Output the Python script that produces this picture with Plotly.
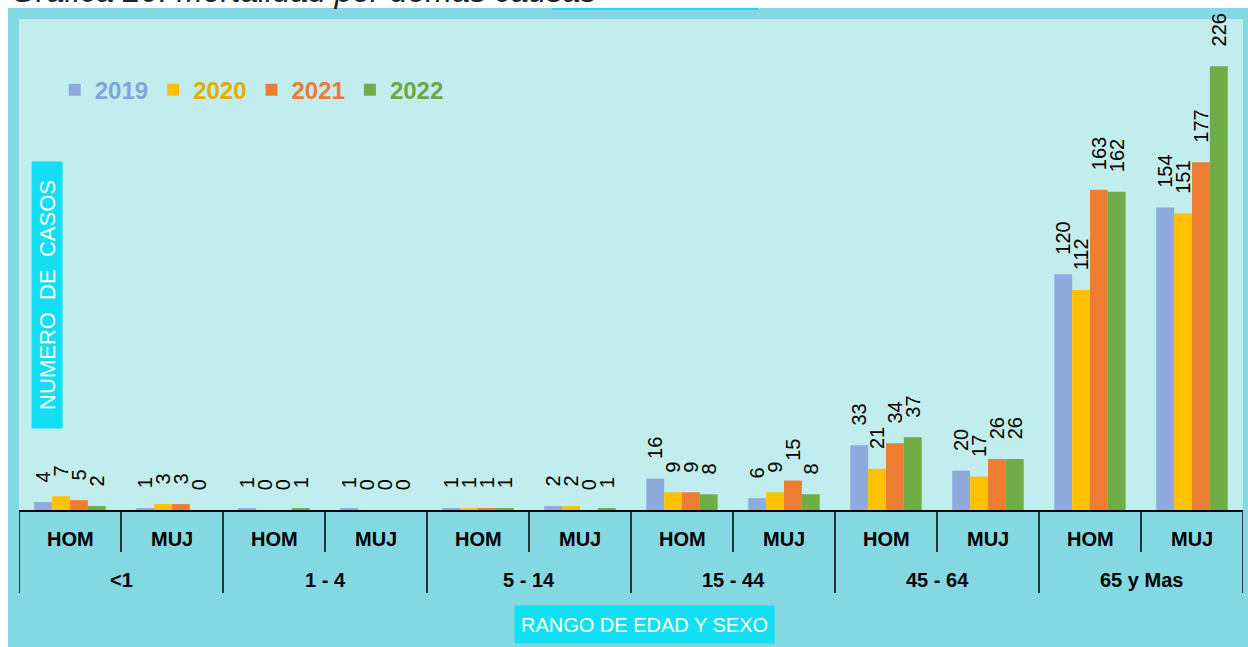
import plotly.graph_objects as go

# ---- data ----
groups = ["<1", "1 - 4", "5 - 14", "15 - 44", "45 - 64", "65 y Mas"]
sexes = ["HOM", "MUJ"]
years = ["2019", "2020", "2021", "2022"]
v2019 = [4, 1, 1, 1, 1, 2, 16, 6, 33, 20, 120, 154]
v2020 = [7, 3, 0, 0, 1, 2, 9, 9, 21, 17, 112, 151]
v2021 = [5, 3, 0, 0, 1, 0, 9, 15, 34, 26, 163, 177]
v2022 = [2, 0, 1, 0, 1, 1, 8, 8, 37, 26, 162, 226]
series = [v2019, v2020, v2021, v2022]

bar_colors = ["#8FAADC", "#FFC000", "#ED7D31", "#70AD47"]
legend_text_colors = ["#7EA6DA", "#E3AC00", "#EE7A38", "#6AA746"]

title_text = "Gráfica 20: Mortalidad por demás causas"
y_title = "NUMERO  DE  CASOS"
x_title = "RANGO DE EDAD Y SEXO"

FRAME = "#84D8E1"
PLOTBG = "#C1EDEF"
BRIGHT = "#12DFF3"

LABEL_FONT = "Liberation Sans Narrow, Arial Narrow, Liberation Sans, Arial"

cat_sex = [s for g in groups for s in sexes]
cat_idx = list(range(len(cat_sex)))

fig = go.Figure()
for yr, vals, col, tcol in zip(years, series, bar_colors, legend_text_colors):
    fig.add_trace(go.Bar(
        x=cat_idx, y=vals,
        name=f"<span style='color:{tcol}'>{yr}</span>",
        marker=dict(color=col, line=dict(width=0)),
        text=vals,
        texttemplate="\u00a0\u00a0\u00a0%{y}",
        textposition="outside",
        textangle=-90,
        constraintext="none",
        cliponaxis=False,
        outsidetextfont=dict(family="Liberation Sans, Arial", size=20, color="black"),
    ))

shapes = []
# white page area above and left of the chart frame
shapes.append(dict(type="rect", xref="paper", yref="paper",
                   x0=-0.1, x1=1.1, y0=1.0224, y1=1.2,
                   fillcolor="white", line=dict(width=0), layer="below"))
shapes.append(dict(type="rect", xref="paper", yref="paper",
                   x0=-0.1, x1=-0.009, y0=-0.5, y1=1.2,
                   fillcolor="white", line=dict(width=0), layer="below"))
shapes.append(dict(type="rect", xref="paper", yref="paper",
                   x0=0.4355, x1=0.6038, y0=1.0183, y1=1.0224,
                   fillcolor=BRIGHT, line=dict(width=0), layer="below"))
# dividers
n = len(cat_idx)
for i in range(n + 1):
    long_line = (i % len(sexes) == 0)
    shapes.append(dict(type="line", xref="x", yref="paper",
                       x0=i - 0.5, x1=i - 0.5, y0=0,
                       y1=-0.169 if long_line else -0.0855,
                       line=dict(color="black", width=1.5)))

annotations = []
for i, s in zip(cat_idx, cat_sex):
    annotations.append(dict(x=i, y=-0.059, xref="x", yref="paper", text=s,
                            showarrow=False, yanchor="middle",
                            font=dict(family=LABEL_FONT, size=20, color="black", weight="bold")))
for g, name in enumerate(groups):
    annotations.append(dict(x=g * len(sexes) + (len(sexes) - 1) / 2, y=-0.1426,
                            xref="x", yref="paper", text=name, showarrow=False,
                            yanchor="middle",
                            font=dict(family=LABEL_FONT, size=20, color="black", weight="bold")))
annotations.append(dict(x=0.511, y=-0.2322, xref="paper", yref="paper",
                        xanchor="center", yanchor="middle",
                        text=x_title, showarrow=False, bgcolor=BRIGHT, borderpad=2,
                        width=255, height=33,
                        font=dict(family="Liberation Sans, Arial", size=20, color="white")))
annotations.append(dict(x=0.0229, y=0.438, xref="paper", yref="paper",
                        xanchor="center", yanchor="middle",
                        text=y_title, showarrow=False, textangle=-90, bgcolor=BRIGHT,
                        borderpad=2, width=262, height=26,
                        font=dict(family="Liberation Sans, Arial", size=22, color="white")))
annotations.append(dict(x=-0.0074, y=1.0190, xref="paper", yref="paper",
                        text=title_text, showarrow=False, xanchor="left", yanchor="bottom",
                        borderpad=0,
                        font=dict(family="Liberation Sans, Arial", size=32,
                                  color="#222222", style="italic")))

fig.update_layout(
    width=1248, height=647,
    margin=dict(l=19, r=5, t=19, b=137),
    paper_bgcolor=FRAME,
    plot_bgcolor=PLOTBG,
    barmode="group",
    bargap=0.3,
    bargroupgap=0,
    showlegend=True,
    legend=dict(orientation="h", x=0.0292, y=0.855, xanchor="left", yanchor="middle",
                bgcolor="rgba(0,0,0,0)",
                font=dict(family="Liberation Sans, Arial", size=24, weight="bold")),
    xaxis=dict(range=[-0.5, n - 0.5], showticklabels=False, showgrid=False,
               zeroline=False, showline=True, linecolor="black", linewidth=1.5,
               ticks=""),
    yaxis=dict(range=[0, 250], showticklabels=False, showgrid=False,
               zeroline=False, showline=False, ticks=""),
    shapes=shapes,
    annotations=annotations,
)

fig.write_html("out.html", config={"displayModeBar": False},
               post_script="document.body.style.margin='0px';")
